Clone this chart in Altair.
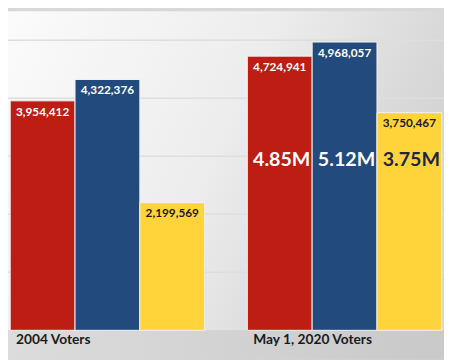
import altair as alt
import pandas as pd

groups = ["2004 Voters", "May 1, 2020 Voters"]
parties = ["Republican", "Democrat", "Unaffiliated"]
values_2004 = [3954412, 4322376, 2199569]
values_2020 = [4724941, 4968057, 3750467]
big_labels_2020 = ["4.85M", "5.12M", "3.75M"]
grid_values = [1000000, 2000000, 3000000, 4000000, 5000000]

party_colors = ["#bd1d13", "#234a7c", "#ffd43b"]
label_colors = ["#ffffff", "#ffffff", "#1a1a1a"]
big_colors = ["#ffffff", "#ffffff", "#1f2740"]

rows = []
for g, vals in zip(groups, [values_2004, values_2020]):
    for p, v in zip(parties, vals):
        rows.append({"group": g, "party": p, "value": v, "label": f"{v:,}"})
df = pd.DataFrame(rows)

big_df = pd.DataFrame({"group": [groups[1]] * 3, "party": parties, "big": big_labels_2020})
grp_df = pd.DataFrame({"group": groups})

W, H = 444, 325

xscale = alt.Scale(domain=groups, paddingInner=0.18, paddingOuter=0.0093)
xoff_scale = alt.Scale(domain=parties, paddingInner=0, paddingOuter=0)
yscale = alt.Scale(domain=[0, 5500000], nice=False)

X = alt.X("group:N", scale=xscale, axis=None)
XO = alt.XOffset("party:N", scale=xoff_scale)

one = alt.Data(values=[{"a": 1}])

bg = alt.Chart(one).mark_rect(
    fill=alt.LinearGradient(
        gradient="linear",
        stops=[alt.GradientStop(color="#fbfbfb", offset=0),
               alt.GradientStop(color="#ededed", offset=0.55),
               alt.GradientStop(color="#d3d3d3", offset=1)],
        x1=0, y1=0, x2=1, y2=0.35),
).encode(x=alt.value(0), x2=alt.value(W), y=alt.value(0), y2=alt.value(H))

band = alt.Chart(one).mark_rect(
    fill=alt.LinearGradient(
        gradient="linear",
        stops=[alt.GradientStop(color="#dcdcdc", offset=0),
               alt.GradientStop(color="#c9c9c9", offset=1)],
        x1=0, x2=1, y1=0, y2=0),
).encode(x=alt.value(0), x2=alt.value(W), y=alt.value(H), y2=alt.value(H + 30))

grid = alt.Chart(pd.DataFrame({"g": grid_values})).mark_rule(
    color="#dedede", strokeWidth=1.5
).encode(y=alt.Y("g:Q", scale=yscale, axis=None), x=alt.value(0), x2=alt.value(W))

bars = alt.Chart(df).mark_bar(stroke="#f2f2f2", strokeWidth=1).encode(
    x=X, xOffset=XO,
    y=alt.Y("value:Q", scale=yscale, axis=None),
    color=alt.Color("party:N", scale=alt.Scale(domain=parties, range=party_colors), legend=None),
)

labels = alt.Chart(df).mark_text(
    font="Lato", fontWeight="bold", fontSize=12, baseline="middle", dy=11
).encode(
    x=X, xOffset=XO,
    y=alt.Y("value:Q", scale=yscale, axis=None),
    text="label:N",
    color=alt.Color("party:N", scale=alt.Scale(domain=parties, range=label_colors), legend=None),
)

big = alt.Chart(big_df).mark_text(
    font="Lato", fontWeight="bold", fontSize=20, baseline="middle", dx=2
).encode(
    x=X, xOffset=XO,
    y=alt.value(152),
    text="big:N",
    color=alt.Color("party:N", scale=alt.Scale(domain=parties, range=big_colors), legend=None),
)

glabels = alt.Chart(grp_df).mark_text(
    font="Lato", fontWeight="bold", fontSize=14, baseline="middle", align="left",
    dx=6, color="#1a1a1a"
).encode(
    x=alt.X("group:N", scale=xscale, axis=None, bandPosition=0),
    y=alt.value(H + 10),
    text="group:N",
)

chart = alt.layer(bg, band, grid, bars, labels, big, glabels).resolve_scale(
    color="independent"
).properties(
    width=W, height=H,
    autosize=alt.AutoSizeParams(type="none"),
    padding={"left": 0, "top": 0, "right": 0, "bottom": 27},
    background="#d8d8d8",
).configure_view(strokeWidth=0)

chart.save("out.html", embed_options={"renderer": "svg", "actions": False})
